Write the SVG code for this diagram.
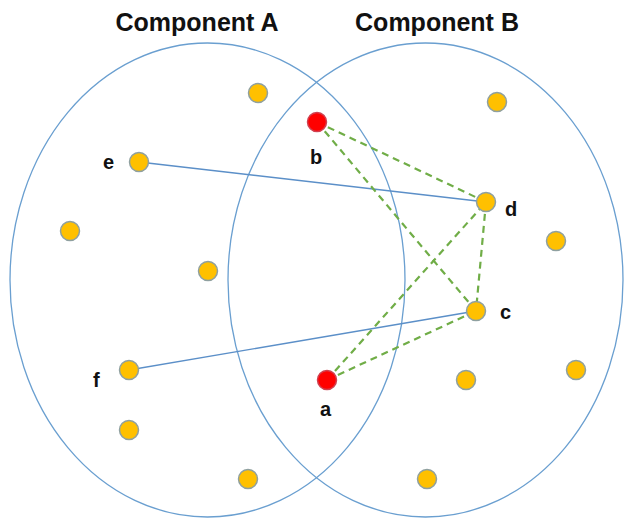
<svg xmlns="http://www.w3.org/2000/svg" width="625" height="521" viewBox="0 0 625 521">
<style>
.comp{fill:none;stroke:#6a9fd0;stroke-width:1.3}
.n{fill:#FFC000;stroke:#8fa0a0;stroke-width:1.5}
.r{fill:#FF0000;stroke:#d04050;stroke-width:1.5}
.solid{stroke:#5b8fc8;stroke-width:1.4;fill:none}
.dash{stroke:#70AD47;stroke-width:2.2;stroke-dasharray:7,5;fill:none}
.lbl{font-family:"Liberation Sans",Arial,sans-serif;font-weight:bold;font-size:20px;fill:#111}
.title{font-family:"Liberation Sans",Arial,sans-serif;font-weight:bold;font-size:25px;fill:#111;text-anchor:middle}
</style>
<rect width="625" height="521" fill="#fff"/>
<g id="componentA"><ellipse class="comp" cx="207.5" cy="280" rx="197.5" ry="237"/><text class="title" x="197" y="31">Component A</text></g>
<g id="componentB"><ellipse class="comp" cx="425.5" cy="280" rx="197.5" ry="237"/><text class="title" x="437" y="31">Component B</text></g>
<g id="connectors">
<line class="solid" x1="139" y1="162" x2="486" y2="202"/>
<line class="solid" x1="129" y1="370" x2="476" y2="311"/>
<line class="dash" x1="317" y1="122" x2="486" y2="202"/>
<line class="dash" x1="317" y1="122" x2="476" y2="311"/>
<line class="dash" x1="327" y1="380" x2="486" y2="202"/>
<line class="dash" x1="327" y1="380" x2="476" y2="311"/>
<line class="dash" x1="486" y1="202" x2="476" y2="311"/>
</g>
<g id="n1"><circle class="n" cx="258" cy="93" r="9.5"/></g>
<g id="e"><circle class="n" cx="139" cy="162" r="9.5"/><text class="lbl" x="103" y="169">e</text></g>
<g id="n2"><circle class="n" cx="70" cy="231" r="9.5"/></g>
<g id="n3"><circle class="n" cx="208" cy="271" r="9.5"/></g>
<g id="f"><circle class="n" cx="129" cy="370" r="9.5"/><text class="lbl" x="93" y="387">f</text></g>
<g id="n4"><circle class="n" cx="129" cy="430" r="9.5"/></g>
<g id="n5"><circle class="n" cx="248" cy="479" r="9.5"/></g>
<g id="b"><circle class="r" cx="317" cy="122" r="9.5"/><text class="lbl" x="310" y="164">b</text></g>
<g id="n6"><circle class="n" cx="497" cy="102" r="9.5"/></g>
<g id="d"><circle class="n" cx="486" cy="202" r="9.5"/><text class="lbl" x="505" y="216">d</text></g>
<g id="n7"><circle class="n" cx="556" cy="241" r="9.5"/></g>
<g id="c"><circle class="n" cx="476" cy="311" r="9.5"/><text class="lbl" x="500" y="319">c</text></g>
<g id="a"><circle class="r" cx="327" cy="380" r="9.5"/><text class="lbl" x="320" y="416">a</text></g>
<g id="n8"><circle class="n" cx="466" cy="380" r="9.5"/></g>
<g id="n9"><circle class="n" cx="576" cy="370" r="9.5"/></g>
<g id="n10"><circle class="n" cx="427" cy="479" r="9.5"/></g>
</svg>
